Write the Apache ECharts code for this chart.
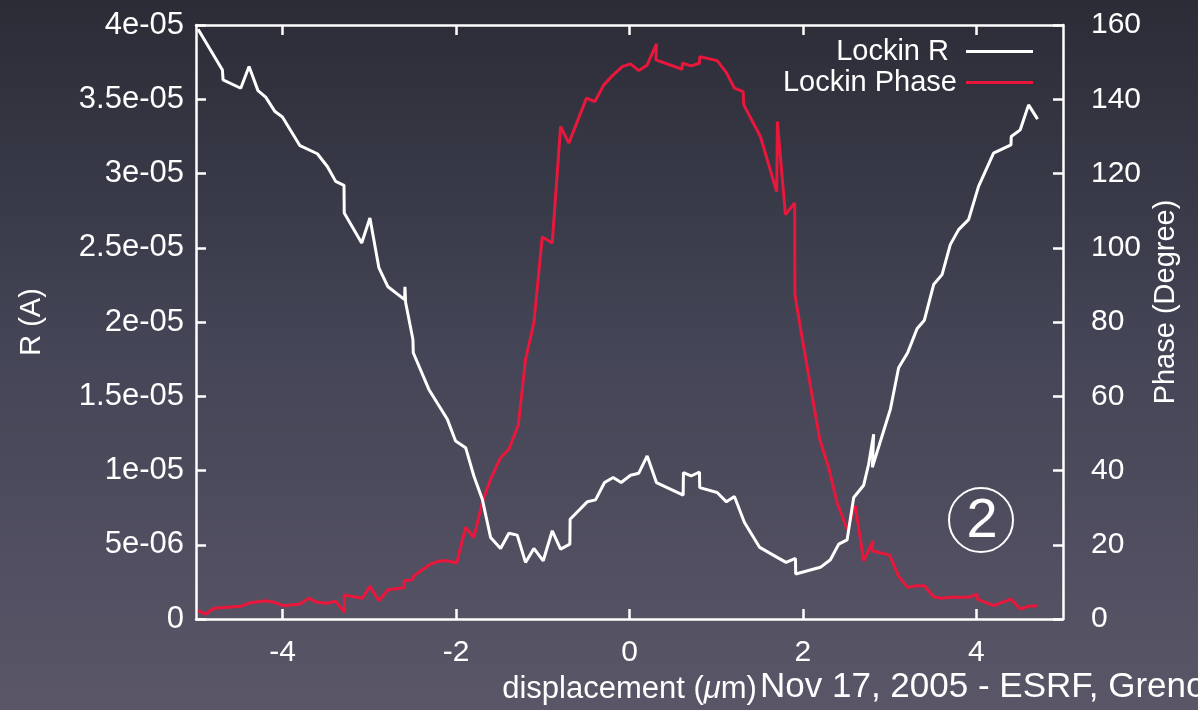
<!DOCTYPE html>
<html>
<head>
<meta charset="utf-8">
<script src="https://cdn.jsdelivr.net/npm/echarts@6/dist/echarts.min.js"></script>
<style>
html,body{margin:0;padding:0;background:#3e3f4f;}
#chart{width:1198px;height:710px;}
</style>
</head>
<body>
<div id="chart"></div>
<script>
// ---- data ----
const rX = [-4.976,-4.695,-4.688,-4.484,-4.388,-4.285,-4.196,-4.089,-4.003,-3.801,-3.600,-3.485,-3.389,-3.293,-3.290,-3.089,-2.994,-2.890,-2.786,-2.594,-2.590,-2.582,-2.498,-2.494,-2.314,-2.101,-2.006,-1.890,-1.795,-1.698,-1.602,-1.487,-1.391,-1.295,-1.199,-1.103,-0.995,-0.891,-0.795,-0.688,-0.685,-0.488,-0.392,-0.288,-0.188,-0.096,0.012,0.107,0.204,0.311,0.619,0.622,0.711,0.807,0.810,1.011,1.118,1.210,1.326,1.502,1.703,1.806,1.914,1.917,2.202,2.317,2.413,2.510,2.586,2.701,2.758,2.816,2.801,3.009,3.104,3.208,3.316,3.401,3.508,3.605,3.700,3.796,3.911,4.026,4.199,4.400,4.403,4.507,4.603,4.707];
const rVal = [39.71e-6,36.97e-6,36.30e-6,35.74e-6,37.20e-6,35.58e-6,35.14e-6,34.17e-6,33.80e-6,31.87e-6,31.33e-6,30.47e-6,29.47e-6,29.20e-6,27.34e-6,25.32e-6,27.00e-6,23.64e-6,22.37e-6,21.51e-6,22.37e-6,21.31e-6,18.82e-6,17.93e-6,15.46e-6,13.45e-6,11.99e-6,11.54e-6,9.63e-6,8.07e-6,5.49e-6,4.75e-6,5.78e-6,5.65e-6,3.81e-6,4.75e-6,3.92e-6,5.94e-6,4.71e-6,5.04e-6,6.72e-6,7.89e-6,8.02e-6,9.19e-6,9.53e-6,9.19e-6,9.68e-6,9.82e-6,10.98e-6,9.19e-6,8.34e-6,9.86e-6,9.63e-6,9.90e-6,8.85e-6,8.52e-6,7.89e-6,8.25e-6,6.50e-6,4.82e-6,4.15e-6,3.81e-6,4.08e-6,3.03e-6,3.48e-6,3.99e-6,5.04e-6,5.33e-6,8.18e-6,9.01e-6,10.42e-6,12.44e-6,10.22e-6,14.12e-6,16.92e-6,17.93e-6,19.54e-6,20.12e-6,22.52e-6,23.19e-6,25.21e-6,26.22e-6,26.89e-6,29.13e-6,31.37e-6,31.93e-6,32.49e-6,32.94e-6,34.62e-6,33.66e-6];

const phX = [-4.976,-4.887,-4.792,-4.484,-4.388,-4.196,-4.100,-3.985,-3.801,-3.697,-3.600,-3.493,-3.389,-3.285,-3.291,-3.081,-2.994,-2.890,-2.786,-2.602,-2.599,-2.505,-2.486,-2.294,-2.198,-2.101,-1.994,-1.890,-1.795,-1.698,-1.602,-1.487,-1.391,-1.283,-1.199,-1.103,-1.006,-0.891,-0.795,-0.700,-0.496,-0.400,-0.296,-0.199,-0.084,0.012,0.107,0.204,0.311,0.305,0.607,0.610,0.711,0.807,0.810,1.011,1.118,1.210,1.311,1.318,1.510,1.698,1.706,1.798,1.905,1.908,1.991,2.194,2.297,2.394,2.510,2.605,2.701,2.809,2.798,3.001,3.104,3.208,3.308,3.401,3.508,3.605,3.700,3.911,4.008,4.011,4.199,4.400,4.507,4.603,4.700];
const phVal = [2.23,1.34,2.88,3.42,4.30,4.92,4.49,3.58,4.03,5.57,4.49,4.22,4.76,1.80,6.45,5.57,8.79,4.92,7.88,8.42,10.30,10.57,11.64,14.79,15.60,15.68,15.06,24.66,21.97,31.38,37.65,43.48,45.71,52.17,69.92,79.79,102.91,101.30,132.65,128.19,140.29,139.38,143.87,146.29,148.79,149.51,147.71,149.25,154.89,150.59,148.09,149.70,148.98,149.70,151.48,150.40,147.18,142.98,142.07,138.49,129.96,115.09,134.00,108.91,112.05,87.40,75.75,48.40,40.79,31.38,24.20,30.47,15.68,21.06,18.37,17.21,11.48,8.52,8.95,8.95,6.00,5.57,5.84,5.84,6.72,5.38,3.58,5.38,2.69,3.42,3.58];

const xTicks = [-4,-2,0,2,4];
const rTickLabels = ["0","5e-06","1e-05","1.5e-05","2e-05","2.5e-05","3e-05","3.5e-05","4e-05"];
const seriesNames = ["Lockin R","Lockin Phase"];

function zip(a,b){ return a.map((v,i)=>[v,b[i]]); }

const WHITE = '#ffffff';
const RED = '#e8173b';
const FONT = '"Liberation Sans", Arial, Helvetica, sans-serif';

const chart = echarts.init(document.getElementById('chart'), null, {renderer:'canvas'});
const axisLine = {show:true, onZero:false, lineStyle:{color:WHITE, width:2.5}};
const tick = {show:true, inside:true, length:10, lineStyle:{color:WHITE, width:2.5}};

chart.setOption({
  backgroundColor: {
    type:'linear', x:0, y:0, x2:0, y2:1,
    colorStops:[{offset:0,color:'#2b2c36'},{offset:0.5,color:'#444556'},{offset:1,color:'#5a5668'}]
  },
  animation:false,
  textStyle:{fontFamily:FONT},
  grid:{left:196, right:135, top:25, bottom:90, containLabel:false},
  legend:[
    {data:[seriesNames[0]], orient:'vertical', right:165, top:37, padding:0, align:'right', icon:'rect',
     itemWidth:67, itemHeight:3, textStyle:{color:WHITE, fontSize:29, fontFamily:FONT, padding:[0,12,0,0]}},
    {data:[seriesNames[1]], orient:'vertical', right:165, top:68, padding:0, align:'right', icon:'rect',
     itemWidth:67, itemHeight:3, textStyle:{color:WHITE, fontSize:29, fontFamily:FONT, padding:[0,4,0,0]}}
  ],
  xAxis:[
    {type:'value', position:'bottom', min:-5, max:5,
     axisLine:axisLine, axisTick:Object.assign({customValues:xTicks}, tick),
     axisLabel:{customValues:xTicks, color:WHITE, fontSize:30, margin:19, fontFamily:FONT},
     splitLine:{show:false},
     name:'displacement ({i|μ}m)', nameLocation:'middle', nameGap:55,
     nameTextStyle:{color:WHITE, fontSize:31, fontFamily:FONT,
       rich:{i:{fontStyle:'italic', fontSize:31, color:WHITE, fontFamily:FONT}}}},
    {type:'value', position:'top', min:-5, max:5,
     axisLine:axisLine, axisTick:Object.assign({customValues:xTicks}, tick),
     axisLabel:{show:false}, splitLine:{show:false}}
  ],
  yAxis:[
    {type:'value', position:'left', min:0, max:4e-5, interval:5e-6,
     axisLine:axisLine, axisTick:tick, splitLine:{show:false},
     axisLabel:{color:WHITE, fontSize:31, margin:12, fontFamily:FONT,
       formatter:function(v){ return rTickLabels[Math.round(v/5e-6)]; }},
     name:'R (A)', nameLocation:'middle', nameGap:150, nameRotate:90,
     nameTextStyle:{color:WHITE, fontSize:29, fontFamily:FONT}},
    {type:'value', position:'right', min:0, max:160, interval:20,
     axisLine:axisLine, axisTick:tick, splitLine:{show:false},
     axisLabel:{color:WHITE, fontSize:30, margin:28, fontFamily:FONT},
     name:'Phase (Degree)', nameLocation:'middle', nameGap:86, nameRotate:90,
     nameTextStyle:{color:WHITE, fontSize:29, fontFamily:FONT, padding:[0,0,0,40]}}
  ],
  series:[
    {name:seriesNames[0], type:'line', xAxisIndex:0, yAxisIndex:0, data:zip(rX,rVal),
     showSymbol:false, symbol:'none', lineStyle:{color:WHITE, width:3}, itemStyle:{color:WHITE}, z:3},
    {name:seriesNames[1], type:'line', xAxisIndex:0, yAxisIndex:1, data:zip(phX,phVal),
     showSymbol:false, symbol:'none', lineStyle:{color:RED, width:3}, itemStyle:{color:RED}, z:2}
  ],
  graphic:[
    {type:'circle', shape:{cx:981, cy:520, r:32}, style:{fill:'none', stroke:WHITE, lineWidth:2}, z:10},
    {type:'text', x:982, y:522, style:{text:'2', fill:WHITE, font:'56px '+FONT, textAlign:'center', textVerticalAlign:'middle'}, z:10},
    {type:'text', left:760, top:670, style:{text:'Nov 17, 2005 - ESRF, Grenoble', fill:WHITE, font:'35px '+FONT}, z:10}
  ]
});
</script>
</body>
</html>
